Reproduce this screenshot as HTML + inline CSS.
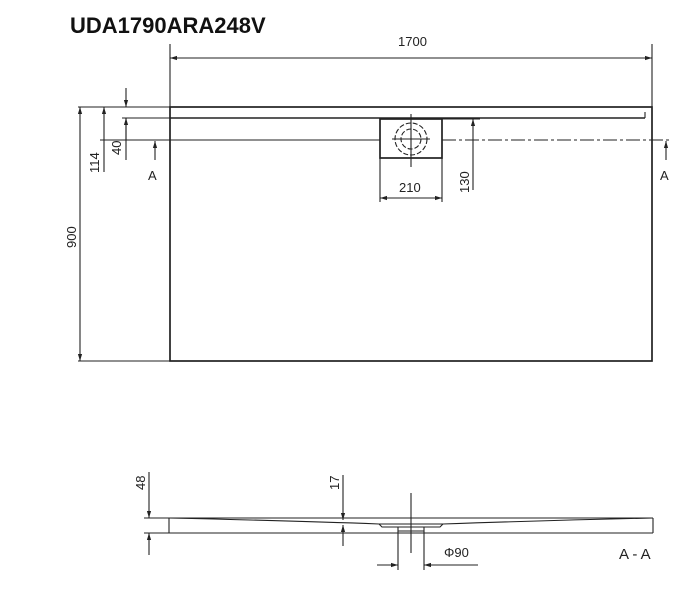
<!DOCTYPE html>
<html><head><meta charset="utf-8"><style>
body{margin:0;background:#fff;width:699px;height:600px;overflow:hidden}
svg{display:block}
text{font-family:"Liberation Sans",sans-serif;fill:#222}
</style></head><body>
<svg width="699" height="600" viewBox="0 0 699 600">
<defs><marker id="a" viewBox="0 0 10 10" refX="10" refY="5" markerWidth="10" markerHeight="7" markerUnits="userSpaceOnUse" orient="auto-start-reverse"><path d="M0,2 L10,5 L0,8z" fill="#222"/></marker></defs>
<text x="70" y="33" font-size="22" font-weight="bold" style="fill:#111">UDA1790ARA248V</text>
<g stroke="#222" fill="none" stroke-width="1.1">
<line x1="170" y1="44" x2="170" y2="107"/><line x1="652" y1="44" x2="652" y2="107"/>
<line x1="170" y1="58" x2="652" y2="58" marker-start="url(#a)" marker-end="url(#a)"/>
<rect x="170" y="107" width="482" height="254" stroke-width="1.7"/>
<line x1="170" y1="118" x2="645" y2="118" stroke-width="1.5"/>
<line x1="645" y1="112" x2="645" y2="118"/>
<line x1="100" y1="140" x2="380" y2="140"/>
<line x1="442" y1="140" x2="670" y2="140" stroke-dasharray="14,3,3,3"/>
<rect x="380" y="119" width="62" height="39" stroke-width="1.7"/>
<circle cx="411" cy="139" r="16" stroke-dasharray="5,2"/>
<circle cx="411" cy="139" r="10" stroke-dasharray="5,2"/>
<line x1="411" y1="114" x2="411" y2="167"/><line x1="392" y1="139" x2="430" y2="139"/>
<line x1="380" y1="158" x2="380" y2="202"/><line x1="442" y1="158" x2="442" y2="202"/>
<line x1="380" y1="198" x2="442" y2="198" marker-start="url(#a)" marker-end="url(#a)"/>
<line x1="442" y1="119" x2="480" y2="119"/>
<line x1="473" y1="119" x2="473" y2="190" marker-start="url(#a)"/>
<line x1="78" y1="107" x2="170" y2="107"/><line x1="122" y1="118" x2="170" y2="118"/>
<line x1="78" y1="361" x2="170" y2="361"/>
<line x1="80" y1="107" x2="80" y2="361" marker-start="url(#a)" marker-end="url(#a)"/>
<line x1="104" y1="107" x2="104" y2="172" marker-start="url(#a)"/>
<line x1="126" y1="88" x2="126" y2="107" marker-end="url(#a)"/>
<line x1="126" y1="118" x2="126" y2="160" />
<line x1="126" y1="140" x2="126" y2="118" marker-end="url(#a)"/>
<line x1="155" y1="160" x2="155" y2="141" marker-end="url(#a)"/>
<line x1="666" y1="160" x2="666" y2="141" marker-end="url(#a)"/>
<line x1="144" y1="518" x2="653" y2="518"/>
<line x1="144" y1="533" x2="653" y2="533"/>
<line x1="169" y1="518" x2="169" y2="533"/><line x1="653" y1="518" x2="653" y2="533"/>
<path d="M169,518 Q300,521 379,524 L443,524 Q560,520 653,518"/>
<path d="M379,524 L382,527 L440,527 L443,524"/>
<path d="M398,527 L398,531 L424,531 L424,527"/>
<line x1="149" y1="472" x2="149" y2="518" marker-end="url(#a)"/>
<line x1="149" y1="555" x2="149" y2="533" marker-end="url(#a)"/>
<line x1="343" y1="475" x2="343" y2="520" marker-end="url(#a)"/>
<line x1="343" y1="546" x2="343" y2="525" marker-end="url(#a)"/>
<line x1="411" y1="493" x2="411" y2="553"/>
<line x1="398" y1="531" x2="398" y2="570"/><line x1="424" y1="531" x2="424" y2="570"/>
<line x1="377" y1="565" x2="398" y2="565" marker-end="url(#a)"/>
<line x1="478" y1="565" x2="424" y2="565" marker-end="url(#a)"/>
</g>
<g font-size="13">
<text x="398" y="46">1700</text>
<text x="399" y="192">210</text>
<text x="444" y="557">Φ90</text>
<text x="148" y="180">A</text><text x="660" y="180">A</text>
<text x="619" y="559" font-size="15">A - A</text>
<text transform="translate(76,248) rotate(-90)">900</text>
<text transform="translate(99,173) rotate(-90)">114</text>
<text transform="translate(121,155) rotate(-90)">40</text>
<text transform="translate(469,193) rotate(-90)">130</text>
<text transform="translate(145,490) rotate(-90)">48</text>
<text transform="translate(339,490) rotate(-90)">17</text>
</g>
</svg>
</body></html>
